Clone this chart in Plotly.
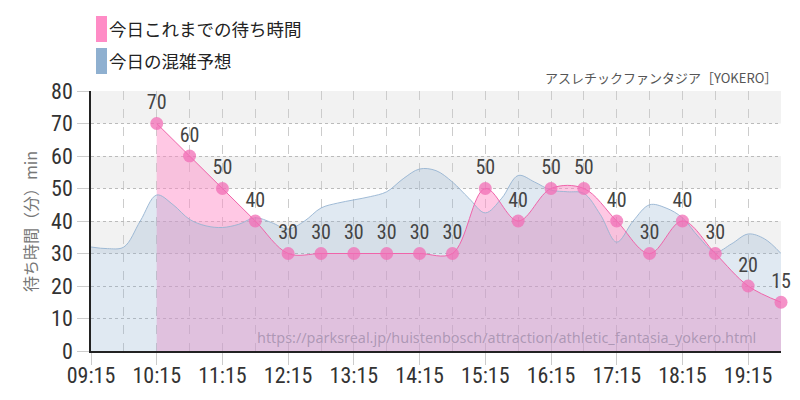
import plotly.graph_objects as go

# ---- data ----
actual_times = ["10:15", "10:45", "11:15", "11:45", "12:15", "12:45", "13:15", "13:45",
                "14:15", "14:45", "15:15", "15:45", "16:15", "16:45", "17:15", "17:45",
                "18:15", "18:45", "19:15", "19:45"]
actual_wait = [70, 60, 50, 40, 30, 30, 30, 30, 30, 30, 50, 40, 50, 50, 40, 30, 40, 30, 20, 15]

forecast_times = ["09:15", "09:30", "09:45", "10:00", "10:15", "10:30", "10:45", "11:00",
                  "11:15", "11:30", "11:45", "12:00", "12:15", "12:30", "12:45", "13:00",
                  "13:15", "13:30", "13:45", "14:00", "14:15", "14:30", "14:45", "15:00",
                  "15:15", "15:30", "15:45", "16:00", "16:15", "16:30", "16:45", "17:00",
                  "17:15", "17:30", "17:45", "18:00", "18:15", "18:30", "18:45", "19:00",
                  "19:15", "19:30", "19:45"]
forecast_wait = [32, 31.5, 32, 40, 48, 45, 40.5, 38.5,
                 38, 39, 41, 39.5, 37.5, 40, 44, 45.5,
                 46.5, 47.5, 49, 53, 56, 55.5, 52, 47,
                 42.5, 47, 54, 52, 49.5, 49, 48.5, 42,
                 33.5, 40, 45, 44, 41, 35, 30.5, 33,
                 36, 34.5, 30]

x_ticks = ["09:15", "10:15", "11:15", "12:15", "13:15", "14:15", "15:15", "16:15",
           "17:15", "18:15", "19:15"]
y_ticks = [0, 10, 20, 30, 40, 50, 60, 70, 80]

legend_labels = ["今日これまでの待ち時間", "今日の混雑予想"]
title_text = "アスレチックファンタジア［YOKERO］"
y_title = "待ち時間（分）min"
url_text = "https://parksreal.jp/huistenbosch/attraction/athletic_fantasia_yokero.html"

DAY = "2024-01-01 "
ax = [DAY + t for t in actual_times]
fx = [DAY + t for t in forecast_times]
xt = [DAY + t for t in x_ticks]

COND = "Liberation Sans Narrow, Roboto Condensed, DejaVu Sans Condensed, Arial Narrow, sans-serif"
JP = "Noto Sans CJK JP, Noto Sans, sans-serif"

PINK = "rgb(255,140,198)"
BLUE = "rgb(143,176,208)"

fig = go.Figure()

# pink fill (actual) drawn first
fig.add_trace(go.Scatter(
    x=ax, y=actual_wait, mode="lines", line=dict(width=0, shape="spline", smoothing=1),
    fill="tozeroy", fillcolor="rgba(255,140,198,0.48)", hoverinfo="skip", showlegend=False))

# blue forecast fill + line on top
fig.add_trace(go.Scatter(
    x=fx, y=forecast_wait, mode="lines",
    line=dict(color="rgba(150,180,210,0.9)", width=1, shape="spline", smoothing=1),
    fill="tozeroy", fillcolor="rgba(143,176,208,0.28)", showlegend=False))

# pink line + markers + labels
fig.add_trace(go.Scatter(
    x=ax, y=actual_wait, mode="lines+markers+text",
    line=dict(color="rgb(240,100,170)", width=1, shape="spline", smoothing=1),
    marker=dict(size=13, color="rgba(242,110,182,0.75)"),
    text=[str(v) for v in actual_wait], textposition="top center",
    textfont=dict(family=COND, size=20, color="#444"),
    cliponaxis=False, showlegend=False))

shapes = []
# alternating horizontal bands
for lo in (30, 50, 70):
    shapes.append(dict(type="rect", xref="paper", yref="y", x0=0, x1=1, y0=lo, y1=lo + 10,
                       fillcolor="#f2f2f2", line=dict(width=0), layer="below"))

# helpers: reference-pixel positions relative to the plot area (90..780, 90..350)
PW, PH = 690.0, 260.0
def px_x(p):
    return (p - 90) / PW
def px_y(p):
    return (350 - p) / PH

for (top, bot), col in zip([(15, 41), (47, 73)], [PINK, BLUE]):
    shapes.append(dict(type="rect", xref="paper", yref="paper",
                       x0=px_x(95), x1=px_x(106), y0=px_y(bot), y1=px_y(top),
                       fillcolor=col, line=dict(width=0)))

annotations = []
for lab, yc in zip(legend_labels, [28, 60]):
    annotations.append(dict(text=lab, xref="paper", yref="paper", x=px_x(106), y=px_y(yc),
                            xanchor="left", yanchor="middle", showarrow=False,
                            font=dict(family=JP, size=17.5, color="#222")))
annotations.append(dict(text=title_text, xref="paper", yref="paper", x=px_x(778), y=px_y(76),
                        xanchor="right", yanchor="middle", showarrow=False,
                        font=dict(family=JP, size=13, color="#555")))
annotations.append(dict(text=url_text, xref="paper", yref="paper", x=px_x(757), y=px_y(336),
                        xanchor="right", yanchor="middle", showarrow=False,
                        font=dict(family="Noto Sans, sans-serif", size=14.4, color="rgba(110,100,130,0.45)")))
annotations.append(dict(text=y_title, xref="paper", yref="paper", x=px_x(29), y=px_y(221),
                        xanchor="center", yanchor="middle", showarrow=False, textangle=-90,
                        font=dict(family=JP, size=16, color="#777")))

fig.update_layout(
    width=800, height=400,
    margin=dict(l=83, r=27, t=83, b=57, autoexpand=False),
    paper_bgcolor="white", plot_bgcolor="white",
    shapes=shapes, annotations=annotations,
    showlegend=False,
    xaxis=dict(
        type="date", range=[DAY + "09:15", DAY + "19:45"],
        tickvals=xt, ticktext=x_ticks, automargin=False,
        tickfont=dict(family=COND, size=22, color="#333"),
        ticks="outside", ticklen=12, tickcolor="#ccc", ticklabelstandoff=-8,
        showline=True, linecolor="#222", linewidth=1.5,
        showgrid=True, gridcolor="#ccc", griddash="dash", gridwidth=1,
        minor=dict(dtick=1800000, tick0=DAY + "09:15", showgrid=True, gridcolor="#ccc",
                   griddash="dash", ticks=""),
        zeroline=False, fixedrange=True,
    ),
    yaxis=dict(
        range=[0, 80], tickvals=y_ticks, automargin=False,
        tickfont=dict(family=COND, size=22, color="#333"),
        ticks="outside", ticklen=12, tickcolor="#ccc",
        showline=True, linecolor="#222", linewidth=1.5,
        showgrid=True, gridcolor="#bbb", griddash="dot", gridwidth=1,
        zeroline=False, fixedrange=True,
    ),
)

fig.write_html("out.html")
